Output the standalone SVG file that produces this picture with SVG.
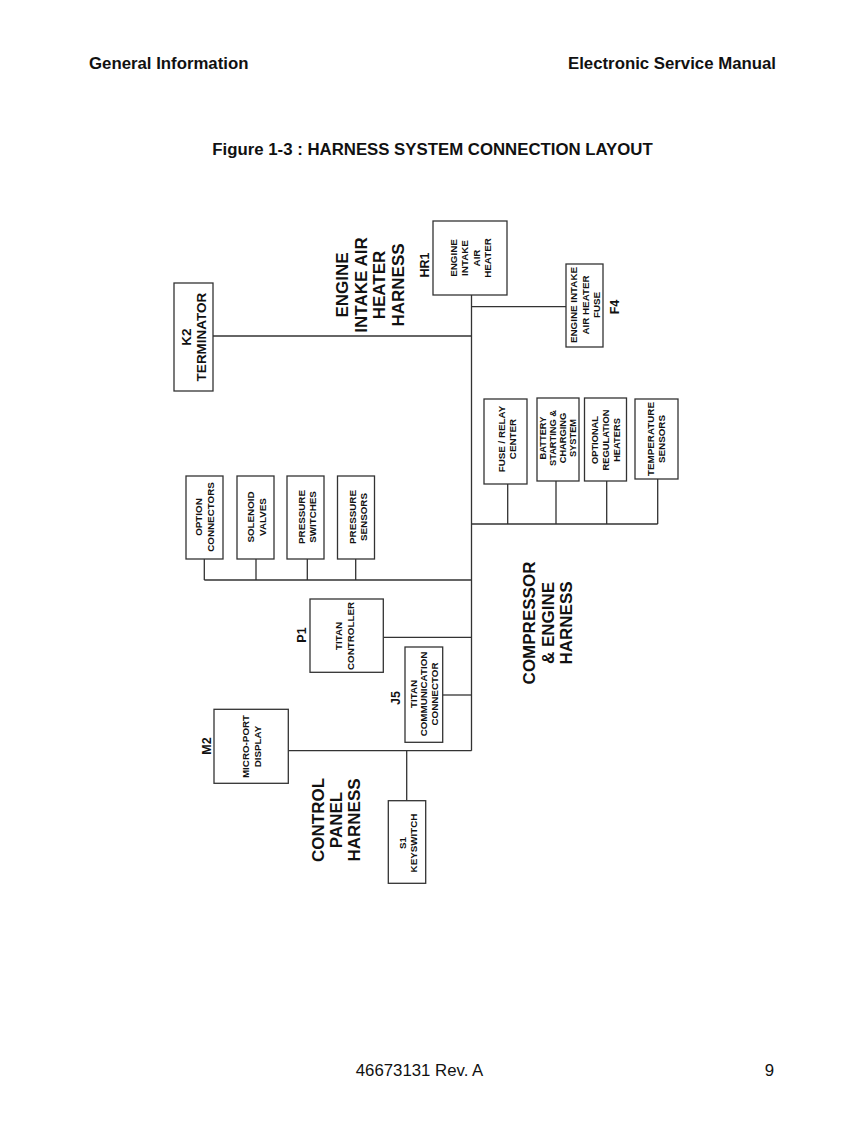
<svg xmlns="http://www.w3.org/2000/svg" width="866" height="1122" viewBox="0 0 866 1122">
<style>
text{font-family:"Liberation Sans",Arial,sans-serif;fill:#111}
.hd{font-size:16.8px;font-weight:bold}
.ft{font-size:16.8px}
.box{fill:#fff;stroke:#333;stroke-width:1.3}
.w{fill:none;stroke:#333;stroke-width:1.3}
.r{text-anchor:middle;dominant-baseline:central;font-weight:bold}
.s{font-size:9.8px}
.s2{font-size:9.3px}
.id{font-size:12.5px}
.k{font-size:13.5px}
.h{font-size:17px}
</style>
<rect width="866" height="1122" fill="#fff"/>
<g id="page-text">
<text class="hd" x="89" y="68.5">General Information</text>
<text class="hd" x="776" y="68.5" text-anchor="end">Electronic Service Manual</text>
<text class="hd" x="432.5" y="155" text-anchor="middle">Figure 1-3 : HARNESS SYSTEM CONNECTION LAYOUT</text>
<text class="ft" x="419.5" y="1076" text-anchor="middle">46673131 Rev. A</text>
<text class="ft" x="774" y="1076" text-anchor="end">9</text>
</g>
<g id="connectors">
<path class="w" d="M471.5 295V750.7"/>
<path class="w" d="M213 336H471.5"/>
<path class="w" d="M471.5 306.7H566"/>
<path class="w" d="M471.5 524H657.7M507.7 484V524M556 481V524M606.7 481V524M657.7 479V524"/>
<path class="w" d="M204.3 580H471.5M204.3 559V580M256 559V580M307.3 559V580M355.7 559V580"/>
<path class="w" d="M383.3 637.3H471.5"/>
<path class="w" d="M442.7 695H471.5"/>
<path class="w" d="M288.3 750.7H471.5"/>
<path class="w" d="M406.7 750.7V800.7"/>
</g>
<g id="harness-labels">
<text class="r h" transform="translate(370,285) rotate(-90)"><tspan x="0" y="-27.75">ENGINE</tspan><tspan x="0" y="-9.25">INTAKE AIR</tspan><tspan x="0" y="9.25">HEATER</tspan><tspan x="0" y="27.75">HARNESS</tspan></text>
<text class="r h" transform="translate(547.5,623) rotate(-90)"><tspan x="0" y="-18.7">COMPRESSOR</tspan><tspan x="0" y="0">&amp; ENGINE</tspan><tspan x="0" y="18.7">HARNESS</tspan></text>
<text class="r h" transform="translate(336.3,820) rotate(-90)"><tspan x="0" y="-17.9">CONTROL</tspan><tspan x="0" y="0">PANEL</tspan><tspan x="0" y="17.9">HARNESS</tspan></text>
</g>
<g id="K2">
<rect class="box" x="174" y="283" width="39" height="108"/>
<text class="r k" transform="translate(193.5,337) rotate(-90)"><tspan x="0" y="-7.5">K2</tspan><tspan x="0" y="7.5">TERMINATOR</tspan></text>
</g>
<g id="HR1">
<rect class="box" x="433" y="221" width="74" height="74"/>
<text class="r id" transform="translate(425,265) rotate(-90)">HR1</text>
<text class="r s" transform="translate(470,258) rotate(-90)"><tspan x="0" y="-17.25">ENGINE</tspan><tspan x="0" y="-5.75">INTAKE</tspan><tspan x="0" y="5.75">AIR</tspan><tspan x="0" y="17.25">HEATER</tspan></text>
</g>
<g id="F4">
<rect class="box" x="566" y="264" width="37" height="83"/>
<text class="r s" transform="translate(584.5,305) rotate(-90)"><tspan x="0" y="-11.5">ENGINE INTAKE</tspan><tspan x="0" y="0">AIR HEATER</tspan><tspan x="0" y="11.5">FUSE</tspan></text>
<text class="r id" transform="translate(615,307) rotate(-90)">F4</text>
</g>
<g id="fuse-relay">
<rect class="box" x="484" y="399" width="43" height="85"/>
<text class="r s" transform="translate(506,439) rotate(-90)"><tspan x="0" y="-5.5">FUSE / RELAY</tspan><tspan x="0" y="5.5">CENTER</tspan></text>
</g>
<g id="battery">
<rect class="box" x="537" y="398" width="42" height="83"/>
<text class="r s2" transform="translate(557.7,438) rotate(-90)"><tspan x="0" y="-15">BATTERY</tspan><tspan x="0" y="-5">STARTING &amp;</tspan><tspan x="0" y="5">CHARGING</tspan><tspan x="0" y="15">SYSTEM</tspan></text>
</g>
<g id="optional">
<rect class="box" x="584.5" y="398" width="42" height="83"/>
<text class="r s2" transform="translate(606,440) rotate(-90)"><tspan x="0" y="-10.8">OPTIONAL</tspan><tspan x="0" y="0">REGULATION</tspan><tspan x="0" y="10.8">HEATERS</tspan></text>
</g>
<g id="temperature">
<rect class="box" x="635" y="399" width="43" height="80"/>
<text class="r s" transform="translate(655.4,439) rotate(-90)"><tspan x="0" y="-5.4">TEMPERATURE</tspan><tspan x="0" y="5.4">SENSORS</tspan></text>
</g>
<g id="option-connectors">
<rect class="box" x="186" y="476" width="37" height="83"/>
<text class="r s" transform="translate(204.2,517) rotate(-90)"><tspan x="0" y="-5.8">OPTION</tspan><tspan x="0" y="5.8">CONNECTORS</tspan></text>
</g>
<g id="solenoid">
<rect class="box" x="237" y="476" width="37" height="83"/>
<text class="r s" transform="translate(255.9,517) rotate(-90)"><tspan x="0" y="-5.8">SOLENOID</tspan><tspan x="0" y="5.8">VALVES</tspan></text>
</g>
<g id="pressure-switches">
<rect class="box" x="287" y="476" width="37" height="83"/>
<text class="r s" transform="translate(306.4,517) rotate(-90)"><tspan x="0" y="-5.6">PRESSURE</tspan><tspan x="0" y="5.6">SWITCHES</tspan></text>
</g>
<g id="pressure-sensors">
<rect class="box" x="337.5" y="476" width="37" height="83"/>
<text class="r s" transform="translate(357.2,517) rotate(-90)"><tspan x="0" y="-5.6">PRESSURE</tspan><tspan x="0" y="5.6">SENSORS</tspan></text>
</g>
<g id="P1">
<rect class="box" x="310" y="599" width="73.3" height="73.3"/>
<text class="r id" transform="translate(301.7,635) rotate(-90)">P1</text>
<text class="r s" transform="translate(344.2,636) rotate(-90)"><tspan x="0" y="-5.9">TITAN</tspan><tspan x="0" y="5.9">CONTROLLER</tspan></text>
</g>
<g id="J5">
<rect class="box" x="405" y="647" width="37.7" height="95.3"/>
<text class="r id" transform="translate(395.7,698) rotate(-90)">J5</text>
<text class="r s" transform="translate(423.4,694) rotate(-90)"><tspan x="0" y="-10.8">TITAN</tspan><tspan x="0" y="0">COMMUNICATION</tspan><tspan x="0" y="10.8">CONNECTOR</tspan></text>
</g>
<g id="M2">
<rect class="box" x="214" y="709.3" width="74.3" height="74"/>
<text class="r id" transform="translate(207,746) rotate(-90)">M2</text>
<text class="r s" transform="translate(250.9,746.5) rotate(-90)"><tspan x="0" y="-5.9">MICRO-PORT</tspan><tspan x="0" y="5.9">DISPLAY</tspan></text>
</g>
<g id="S1">
<rect class="box" x="388.3" y="800.7" width="37.4" height="82.6"/>
<text class="r s" transform="translate(407.5,843) rotate(-90)"><tspan x="0" y="-5.8">S1</tspan><tspan x="0" y="5.8">KEYSWITCH</tspan></text>
</g>
</svg>
